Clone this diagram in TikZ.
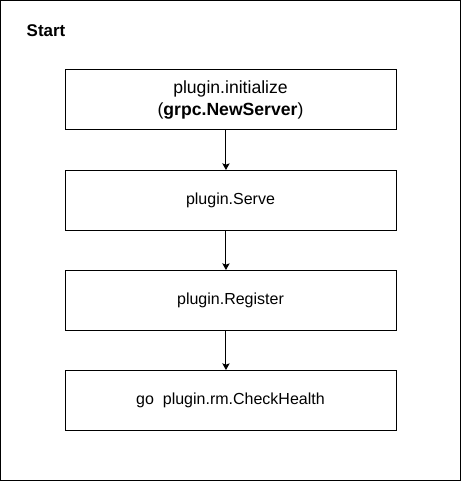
\documentclass[tikz,border=0pt]{standalone}
\usepackage{fontspec}
\setmainfont{Liberation Sans}
\usetikzlibrary{positioning,arrows.meta}

\tikzstyle{frame} = [rectangle, minimum width=459.5*0.75pt, minimum height=479.5*0.75pt, draw=black, line width=0.75pt, inner sep=0pt]
\tikzstyle{wide} = [rectangle, minimum width=331*0.75pt, minimum height=60*0.75pt, outer sep=0pt, text centered, draw=black, line width=0.75pt, font=\fontsize{12}{14}\selectfont]
\tikzstyle{arrow} = [line width=0.75pt,-{Stealth[length=5pt,width=5.5pt,inset=1pt]}]

\begin{document}
\begin{tikzpicture}[x=0.75pt, y=-0.75pt, node distance=30pt]
		\useasboundingbox (0,0) rectangle (461,481);
		\node (outer) [frame] at (230.5,240.5) {};
		\node (start) [anchor=west, font=\bfseries\fontsize{12.7}{14}\selectfont] at (22,31) {Start};

		\node (init) [wide, align=center, font=\fontsize{13.2}{16}\selectfont] at (230.5,100) {plugin.initialize\\(\textbf{grpc.NewServer})};
		\node (serve) [wide, below=of init] {plugin.Serve};
		\node (reg) [wide, below=of serve] {plugin.Register};
		\node (health) [wide, below=of reg] {go\ \ plugin.rm.CheckHealth};

		\draw [arrow] ([xshift=-3.4pt]init.south) -- ([xshift=-3.4pt]serve.north);
		\draw [arrow] ([xshift=-3.4pt]serve.south) -- ([xshift=-3.4pt]reg.north);
		\draw [arrow] ([xshift=-3.4pt]reg.south) -- ([xshift=-3.4pt]health.north);
\end{tikzpicture}
\end{document}
